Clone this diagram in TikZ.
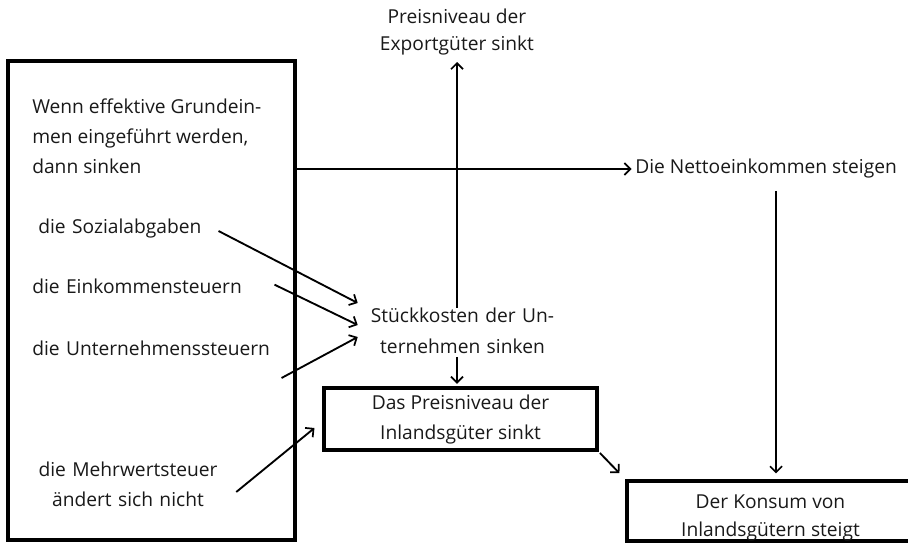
\documentclass[tikz,border=0pt]{standalone}
\usepackage{fontspec}
\setmainfont{Open Sans}
\usetikzlibrary{arrows.meta}
\begin{document}
\begin{tikzpicture}[x=0.75pt,y=-0.75pt,
  txt/.style={font=\fontsize{14.4}{22.5}\selectfont, inner sep=0pt, text=black!90},
  frame/.style={draw, line width=2.3pt, inner sep=0pt},
  arr/.style={line width=1.4pt, -{Straight Barb[length=4.5pt,width=9pt,line width=1.3pt]}}]
\path[use as bounding box] (0,0) rectangle (908,543);

% boxes
\node[frame, minimum width=215.25pt, minimum height=359.25pt] (lbox) at (151.5,300.5) {};
\node[frame, minimum width=204.75pt, minimum height=46.5pt] (pbox) at (460.5,419) {};
\node[frame, minimum width=216pt, minimum height=45pt] (kbox) at (771,511) {};
\node[txt, align=center] (ptxt) at (460.5,420) {Das Preisniveau der\\Inlandsgüter sinkt};
\node[txt, font=\fontsize{14.4}{21}\selectfont, align=center] (ktxt) at (770.5,517.5) {Der Konsum von\\Inlandsgütern steigt};

% left texts
\node[txt, anchor=west, align=left] (wenn) at (32,136) {Wenn effektive Grundein-\\men eingeführt werden,\\dann sinken};
\node[txt, anchor=west, align=left, text width=135pt] (soz) at (38,229) {die Sozialabgaben};
\node[txt, anchor=west, align=left, text width=181.5pt] (eink) at (32,286) {die Einkommensteuern};
\node[txt, anchor=west, align=left, text width=186.75pt] (unt) at (32,348) {die Unternehmenssteuern};
\node[txt, align=center, text width=162pt] (mwst) at (128,484) {die Mehrwertsteuer\\ändert sich nicht};

% other texts
\node[txt, font=\fontsize{14.4}{23.5}\selectfont, align=center, text width=156.75pt] (stk) at (462.5,331) {Stückkosten der Un-\\ternehmen sinken};
\node[txt, font=\fontsize{14.4}{20}\selectfont, align=center, anchor=south] (exp) at (457,55) {Preisniveau der\\Exportgüter sinkt};
\node[txt, anchor=west] (net) at (635,169) {Die Nettoeinkommen steigen};

% connectors
\draw[arr, shorten >=5.25pt] (exp.south |- stk.north) -- (exp.south);
\draw[arr, shorten >=2.5pt] (lbox.east |- net.west) -- (net.west);
\draw[arr, shorten <=2pt, shorten >=2pt] (exp.south |- stk.south) -- (exp.south |- pbox.north);
\draw[arr, shorten <=9pt, shorten >=4.5pt] ([xshift=3.75pt]kbox.north |- net.south) -- ([xshift=3.75pt]kbox.north);
\draw[arr, shorten <=1.5pt, shorten >=6.5pt] (pbox.south east) -- (kbox.north west);
\draw[arr] ([yshift=-1.5pt]soz.east) -- ([yshift=21pt]stk.west);
\draw[arr] ([yshift=1pt]eink.east) -- ([yshift=4.5pt]stk.west);
\draw[arr] ([yshift=-22.5pt]unt.east) -- ([yshift=-4.5pt]stk.west);
\draw[arr] ([yshift=-6pt]mwst.east) -- ([xshift=-6pt,yshift=-6.75pt]pbox.west);
\end{tikzpicture}
\end{document}
